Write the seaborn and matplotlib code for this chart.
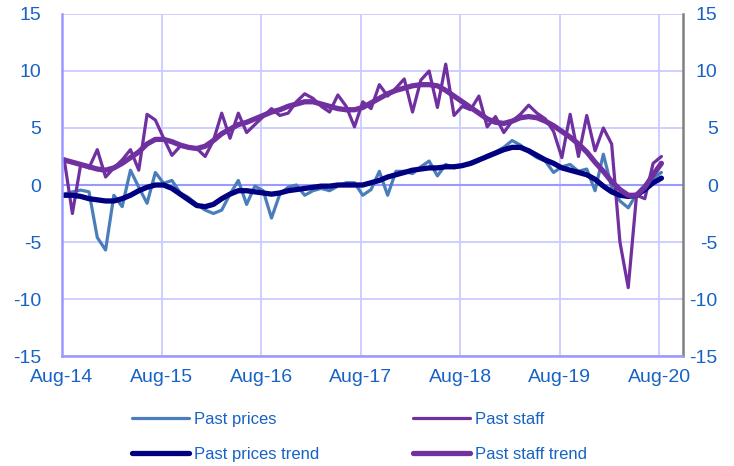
import numpy as np
import pandas as pd
import seaborn as sns
import matplotlib.pyplot as plt

# monthly survey balances, Aug-14 .. Aug-20
past_prices = [
    -0.8, -0.6, -0.45, -0.6, -4.6, -5.7, -0.9, -1.9, 1.3, -0.2, -1.6, 1.1,
    0.15, 0.4, -0.7, -1.1, -1.7, -2.2, -2.5, -2.2, -0.8, 0.4, -1.7, -0.1,
    -0.5, -2.9, -0.8, -0.2, 0.0, -0.9, -0.5, -0.3, -0.5, -0.1, 0.2, 0.2,
    -0.9, -0.4, 1.2, -0.9, 1.2, 1.2, 1.0, 1.6, 2.1, 0.8, 1.8, 1.5,
    1.7, 1.8, 2.1, 2.6, 2.9, 3.3, 3.9, 3.5, 2.9, 2.4, 2.1, 1.1,
    1.6, 1.8, 1.2, 1.4, -0.5, 2.7, -0.2, -1.4, -2.0, -0.8, 0.0, 0.6,
    1.1,
]
past_staff = [
    2.3, -2.5, 1.8, 1.5, 3.1, 0.7, 1.5, 2.2, 3.1, 1.3, 6.2, 5.7,
    4.1, 2.6, 3.4, 3.3, 3.2, 2.5, 3.9, 6.3, 4.1, 6.3, 4.6, 5.3,
    6.0, 6.7, 6.1, 6.3, 7.3, 8.0, 7.6, 6.9, 6.4, 7.9, 6.9, 5.1,
    7.3, 6.7, 8.8, 7.8, 8.5, 9.3, 6.4, 9.2, 10.0, 6.8, 10.6, 6.1,
    6.9, 6.6, 7.8, 5.1, 6.0, 4.6, 5.6, 6.2, 7.0, 6.3, 5.8, 4.7,
    2.4, 6.2, 2.5, 6.1, 3.0, 5.0, 3.6, -5.0, -9.0, -0.9, -1.2, 1.9,
    2.5,
]
prices_trend = [
    -0.9, -0.9, -1.0, -1.2, -1.3, -1.4, -1.4, -1.2, -0.9, -0.5, -0.2, 0.0,
    0.0, -0.3, -0.8, -1.3, -1.8, -1.9, -1.7, -1.2, -0.8, -0.5, -0.5, -0.6,
    -0.7, -0.8, -0.7, -0.5, -0.4, -0.3, -0.2, -0.1, -0.1, 0.0, 0.0, 0.0,
    0.0, 0.2, 0.4, 0.7, 0.9, 1.1, 1.3, 1.4, 1.5, 1.5, 1.6, 1.6,
    1.7, 1.9, 2.2, 2.5, 2.8, 3.1, 3.3, 3.3, 3.0, 2.6, 2.2, 1.9,
    1.5, 1.3, 1.1, 0.9, 0.5, -0.1, -0.6, -0.9, -1.0, -0.9, -0.4, 0.2,
    0.6,
]
staff_trend = [
    2.2, 2.0, 1.8, 1.6, 1.4, 1.3, 1.5, 1.9, 2.4, 2.9, 3.6, 4.0,
    4.0, 3.8, 3.5, 3.3, 3.2, 3.4, 3.9, 4.5, 4.9, 5.3, 5.5, 5.8,
    6.1, 6.4, 6.6, 6.9, 7.1, 7.3, 7.3, 7.1, 6.9, 6.7, 6.6, 6.6,
    6.8, 7.2, 7.6, 8.0, 8.3, 8.5, 8.7, 8.8, 8.8, 8.7, 8.3, 7.8,
    7.3, 6.8, 6.3, 5.8, 5.5, 5.4, 5.6, 5.9, 6.0, 5.9, 5.6, 5.2,
    4.7, 4.2, 3.6, 2.9, 2.0, 1.2, 0.3, -0.4, -0.9, -0.9, -0.2, 0.9,
    1.9,
]
year_labels = ['Aug-14', 'Aug-15', 'Aug-16', 'Aug-17', 'Aug-18', 'Aug-19', 'Aug-20']
y_ticks = [-15, -10, -5, 0, 5, 10, 15]

month = np.arange(len(past_prices))
df = pd.DataFrame({
    'month': month,
    'Past prices': past_prices,
    'Past staff': past_staff,
    'Past prices trend': prices_trend,
    'Past staff trend': staff_trend,
})

label_blue = '#1763C4'
grid_col = '#CCCCFF'

sns.set_style('white')
plt.rcParams['font.family'] = ['Liberation Sans', 'DejaVu Sans']
plt.rcParams['axes.unicode_minus'] = False

fig = plt.figure(figsize=(7.34, 4.66), dpi=100)
ax = fig.add_axes([0.0845, 0.236, 0.846, 0.734])

styles = {
    'Past prices': ('#4A7EBB', 2.3),
    'Past prices trend': ('#000080', 3.8),
    'Past staff': ('#7030A0', 2.3),
    'Past staff trend': ('#7030A0', 3.8),
}
# drawing order: thin series first, trends on top
for name in ['Past prices', 'Past staff', 'Past prices trend', 'Past staff trend']:
    col, lw = styles[name]
    sns.lineplot(data=df, x='month', y=name, ax=ax, color=col, linewidth=lw,
                 legend=False, solid_capstyle='round')

ax.set_xlim(-0.25, 74.6)
ax.set_ylim(-15, 15)
ax.set_xticks([12 * i - 0.25 for i in range(len(year_labels))])
ax.set_xticklabels(year_labels)
ax.set_yticks(y_ticks)
ax.set_xlabel('')
ax.set_ylabel('')
ax.grid(True, color=grid_col, linewidth=1.3)
ax.set_axisbelow(True)
ax.axhline(0, color='#9999FF', linewidth=1.5, zorder=1)

ax.spines['top'].set_visible(False)
ax.spines['left'].set_color('#9999FF')
ax.spines['left'].set_linewidth(1.8)
ax.spines['bottom'].set_color('#9999FF')
ax.spines['bottom'].set_linewidth(1.8)
ax.spines['right'].set_color('#808080')
ax.spines['right'].set_linewidth(1.8)

ax.tick_params(axis='both', length=0, labelsize=14, labelcolor=label_blue)
ax.tick_params(axis='x', pad=9)
ax.tick_params(axis='y', pad=15)

ax2 = ax.twinx()
ax2.set_ylim(-15, 15)
ax2.set_yticks(y_ticks)
ax2.tick_params(axis='y', length=0, labelsize=14, labelcolor=label_blue, pad=25)
for lab in ax2.get_yticklabels():
    lab.set_horizontalalignment('right')
for side in ['top', 'left', 'bottom', 'right']:
    ax2.spines[side].set_visible(False)

handles, labels = [], []
for name in ['Past prices', 'Past prices trend', 'Past staff', 'Past staff trend']:
    col, lw = styles[name]
    handles.append(plt.Line2D([], [], color=col, linewidth=lw))
    labels.append(name)
leg = fig.legend(handles, labels, ncol=2, loc='center',
                 bbox_to_anchor=(0.49, 0.063), frameon=False, fontsize=12,
                 handlelength=3.4, handletextpad=0.35, columnspacing=5.6,
                 labelspacing=1.2)
for t in leg.get_texts():
    t.set_color(label_blue)

fig.savefig('out.png', dpi=100)
